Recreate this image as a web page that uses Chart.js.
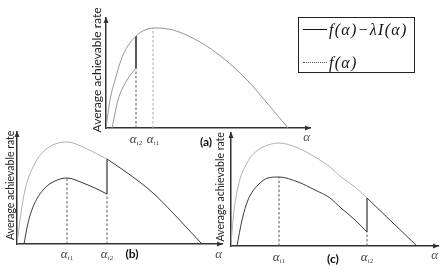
<!DOCTYPE html>
<html>
<head>
<meta charset="utf-8">
<script src="https://cdn.jsdelivr.net/npm/chart.js@4/dist/chart.umd.min.js"></script>
<style>
    body { margin: 0; background: #fff; }
    #wrap { position: relative; width: 443px; height: 273px; overflow: hidden; }
    #wrap canvas { position: absolute; }
    #legend { position: absolute; left: 298px; top: 17px; width: 117px; height: 56px; box-sizing: border-box; border: 1.5px solid #222; }
    #legend .sample { position: absolute; left: 4px; width: 24px; height: 0; }
    #legend .txt { position: absolute; left: 30px; font: italic 16px "Liberation Serif", serif; letter-spacing: 1.3px; color: #111; line-height: 16px; white-space: nowrap; }
</style>
</head>
<body>
<div id="wrap">
    <canvas id="chartB" width="228" height="151" style="left:0;top:122px"></canvas>
    <canvas id="chartC" width="230" height="151" style="left:213px;top:122px"></canvas>
    <canvas id="chartA" width="230" height="150" style="left:88px;top:0"></canvas>
    <div id="legend">
        <span class="sample" style="top:11px;border-top:1.5px solid #111"></span>
        <span class="txt" style="top:4px">f(α)−λI(α)</span>
        <span class="sample" style="top:44px;border-top:1px dotted #555"></span>
        <span class="txt" style="top:37px">f(α)</span>
    </div>
</div>
<script>
'use strict'

// Panel (a): values (x = alpha, y = rate, arbitrary units).
const aFx = [0, 4, 9, 17, 30, 39, 47, 67, 94, 117, 141, 161, 182];
const aFy = [0, 28, 48, 73, 92, 98, 100, 98, 86, 70, 48, 25, 0];
const aGx = [6, 12, 21, 30];
const aGy = [0, 28, 48, 60];
const aJumpX = [30, 30];
const aJumpY = [60, 92];
const aTickValues = [30, 47];
const aTickSubs = ['t2', 't1'];

// Panel (b).
const bFx = [0, 3, 8, 16, 26, 38, 50, 66, 80, 90];
const bFy = [0, 24, 54, 77, 92, 100, 102, 97, 90, 85];
const bGx = [7, 11, 16, 26, 38, 50, 66, 80, 90];
const bGy = [0, 21, 37, 54, 63, 66, 61, 55, 50];
const bTailX = [90, 116, 136, 156, 170, 185];
const bTailY = [85, 67, 51, 31, 16, 0];
const bJumpX = [90, 90];
const bJumpY = [50, 85];
const bTickValues = [50, 90];
const bTickSubs = ['t1', 't2'];

// Panel (c).
const cFx = [0, 2, 7, 16, 27, 37, 48, 67, 84, 99, 110, 124, 136];
const cFy = [0, 26, 59, 83, 96, 101, 103, 98, 89, 79, 69, 59, 48];
const cGx = [6, 11, 17, 27, 37, 48, 67, 84, 99, 110, 124, 136];
const cGy = [0, 26, 46, 61, 68, 69, 64, 56, 48, 38, 26, 14];
const cTailX = [136, 186];
const cTailY = [48, 0];
const cJumpX = [136, 136];
const cJumpY = [14, 48];
const cTickValues = [48, 136];
const cTickSubs = ['t1', 't2'];

// Leading en space nudges the centred axis title a little towards the top, as in the original.
const yLabel = '\u2002Average achievable rate';
const sansFont = 'Lato, "Open Sans", sans-serif';
const serifFont = '"Liberation Serif", serif';

function toPoints(xs, ys) {
    return xs.map((x, i) => ({x: x, y: ys[i]}));
}

function curve(xs, ys, color) {
    return {
        data: toPoints(xs, ys),
        borderColor: color,
        borderWidth: 1,
        showLine: true,
        pointRadius: 0,
        cubicInterpolationMode: 'monotone'
    };
}

function straight(xs, ys, color, dash, width) {
    return {
        data: toPoints(xs, ys),
        borderColor: color,
        borderWidth: width || 1,
        borderDash: dash || [],
        showLine: true,
        pointRadius: 0,
        tension: 0
    };
}

// Dashed drop line from the axis up to a point of a curve.
function dropLine(x, top, color) {
    return straight([x, x], [0, top], color, [2.5, 2]);
}

/**
 * Draws the axis arrowheads, the alpha_t tick labels and the panel tag.
 */
const panelMarks = {
    id: 'panelMarks',
    afterDraw(chart, args, opts) {
        const ctx = chart.ctx;
        const area = chart.chartArea;
        const xs = chart.scales.x;

        ctx.save();
        ctx.fillStyle = '#333';
        ctx.beginPath();
        ctx.moveTo(area.right + 1, area.bottom);
        ctx.lineTo(area.right - 5, area.bottom - 2.5);
        ctx.lineTo(area.right - 5, area.bottom + 2.5);
        ctx.fill();
        ctx.beginPath();
        ctx.moveTo(area.left, area.top - 1);
        ctx.lineTo(area.left - 2.5, area.top + 5);
        ctx.lineTo(area.left + 2.5, area.top + 5);
        ctx.fill();

        ctx.textBaseline = 'middle';
        ctx.textAlign = 'left';
        ctx.fillStyle = '#444';
        opts.values.forEach((v, i) => {
            const px = xs.getPixelForValue(v);
            const y = area.bottom + opts.tickDy;
            ctx.font = 'italic 13px ' + serifFont;
            const wa = ctx.measureText('α').width;
            ctx.font = '7px ' + serifFont;
            const ws = ctx.measureText(opts.subs[i]).width;
            const x0 = px - (wa + ws) / 2;
            ctx.font = 'italic 13px ' + serifFont;
            ctx.fillText('α', x0, y);
            ctx.font = '7px ' + serifFont;
            ctx.fillText(opts.subs[i], x0 + wa, y + 3);
        });

        ctx.font = 'bold 12px ' + sansFont;
        ctx.fillStyle = '#111';
        ctx.textAlign = 'center';
        ctx.fillText(opts.tag, xs.getPixelForValue(opts.tagX), area.bottom + opts.tagDy);
        ctx.restore();
    }
};

function makeChart(id, datasets, cfg) {
    const ctx = document.getElementById(id).getContext('2d');
    return new Chart(ctx, {
        type: 'scatter',
        data: {datasets: datasets},
        options: {
            responsive: false,
            animation: false,
            events: [],
            layout: {padding: cfg.padding},
            plugins: {
                legend: {display: false},
                tooltip: {enabled: false},
                panelMarks: cfg.marks
            },
            scales: {
                x: {
                    type: 'linear',
                    min: 0,
                    max: cfg.xMax,
                    grid: {display: false},
                    border: {display: true, color: '#333', width: 1.5},
                    ticks: {display: false},
                    title: {
                        display: true,
                        text: 'α',
                        align: 'end',
                        color: '#555',
                        font: {family: serifFont, style: 'italic', size: 13},
                        padding: {top: 0, bottom: cfg.xTitlePad}
                    },
                    afterFit: (scale) => { scale.height = cfg.xHeight; }
                },
                y: {
                    type: 'linear',
                    min: 0,
                    max: cfg.yMax,
                    grid: {display: false},
                    border: {display: true, color: '#333', width: 1.5},
                    ticks: {display: false},
                    title: {
                        display: true,
                        text: yLabel,
                        color: '#222',
                        font: {family: sansFont, size: cfg.yFontSize},
                        padding: {top: cfg.yTitlePad, bottom: 0}
                    },
                    afterFit: (scale) => { scale.width = cfg.yWidth; }
                }
            }
        },
        plugins: [panelMarks]
    });
}

makeChart('chartA', [
    curve(aFx, aFy, '#949494'),
    curve(aGx, aGy, '#949494'),
    straight(aJumpX, aJumpY, '#222', [], 1.5),
    dropLine(aTickValues[0], aGy[aGy.length - 1], '#555'),
    dropLine(aTickValues[1], aFy[aFx.indexOf(aTickValues[1])], '#aaa')
], {
    padding: {left: 0, top: 18, right: 8, bottom: 0},
    xMax: 204, yMax: 110,
    xHeight: 22, xTitlePad: 5,
    yWidth: 18, yTitlePad: 2, yFontSize: 12,
    marks: {values: aTickValues, subs: aTickSubs, tickDy: 12, tag: '(a)', tagX: 100, tagDy: 14}
});

makeChart('chartB', [
    curve(bFx, bFy, '#b0b0b0'),
    curve(bGx, bGy, '#3a3a3a'),
    curve(bTailX, bTailY, '#3a3a3a'),
    straight(bJumpX, bJumpY, '#333', [], 1.2),
    dropLine(bTickValues[0], bGy[bGx.indexOf(bTickValues[0])], '#555'),
    dropLine(bTickValues[1], bGy[bGy.length - 1], '#555')
], {
    padding: {left: 0, top: 10, right: 6, bottom: 0},
    xMax: 205, yMax: 112,
    xHeight: 29, xTitlePad: 11,
    yWidth: 17, yTitlePad: 4, yFontSize: 10.5,
    marks: {values: bTickValues, subs: bTickSubs, tickDy: 11, tag: '(b)', tagX: 115, tagDy: 10}
});

makeChart('chartC', [
    curve(cFx, cFy, '#b0b0b0'),
    curve(cGx, cGy, '#3a3a3a'),
    straight(cTailX, cTailY, '#3a3a3a'),
    straight(cJumpX, cJumpY, '#333', [], 1.2),
    dropLine(cTickValues[0], cGy[cGx.indexOf(cTickValues[0])], '#555'),
    dropLine(cTickValues[1], cGy[cGy.length - 1], '#555')
], {
    padding: {left: 0, top: 11, right: 5, bottom: 0},
    xMax: 207, yMax: 113,
    xHeight: 27, xTitlePad: 10,
    yWidth: 18, yTitlePad: 1, yFontSize: 10.5,
    marks: {values: cTickValues, subs: cTickSubs, tickDy: 12, tag: '(c)', tagX: 102, tagDy: 13}
});
</script>
</body>
</html>
